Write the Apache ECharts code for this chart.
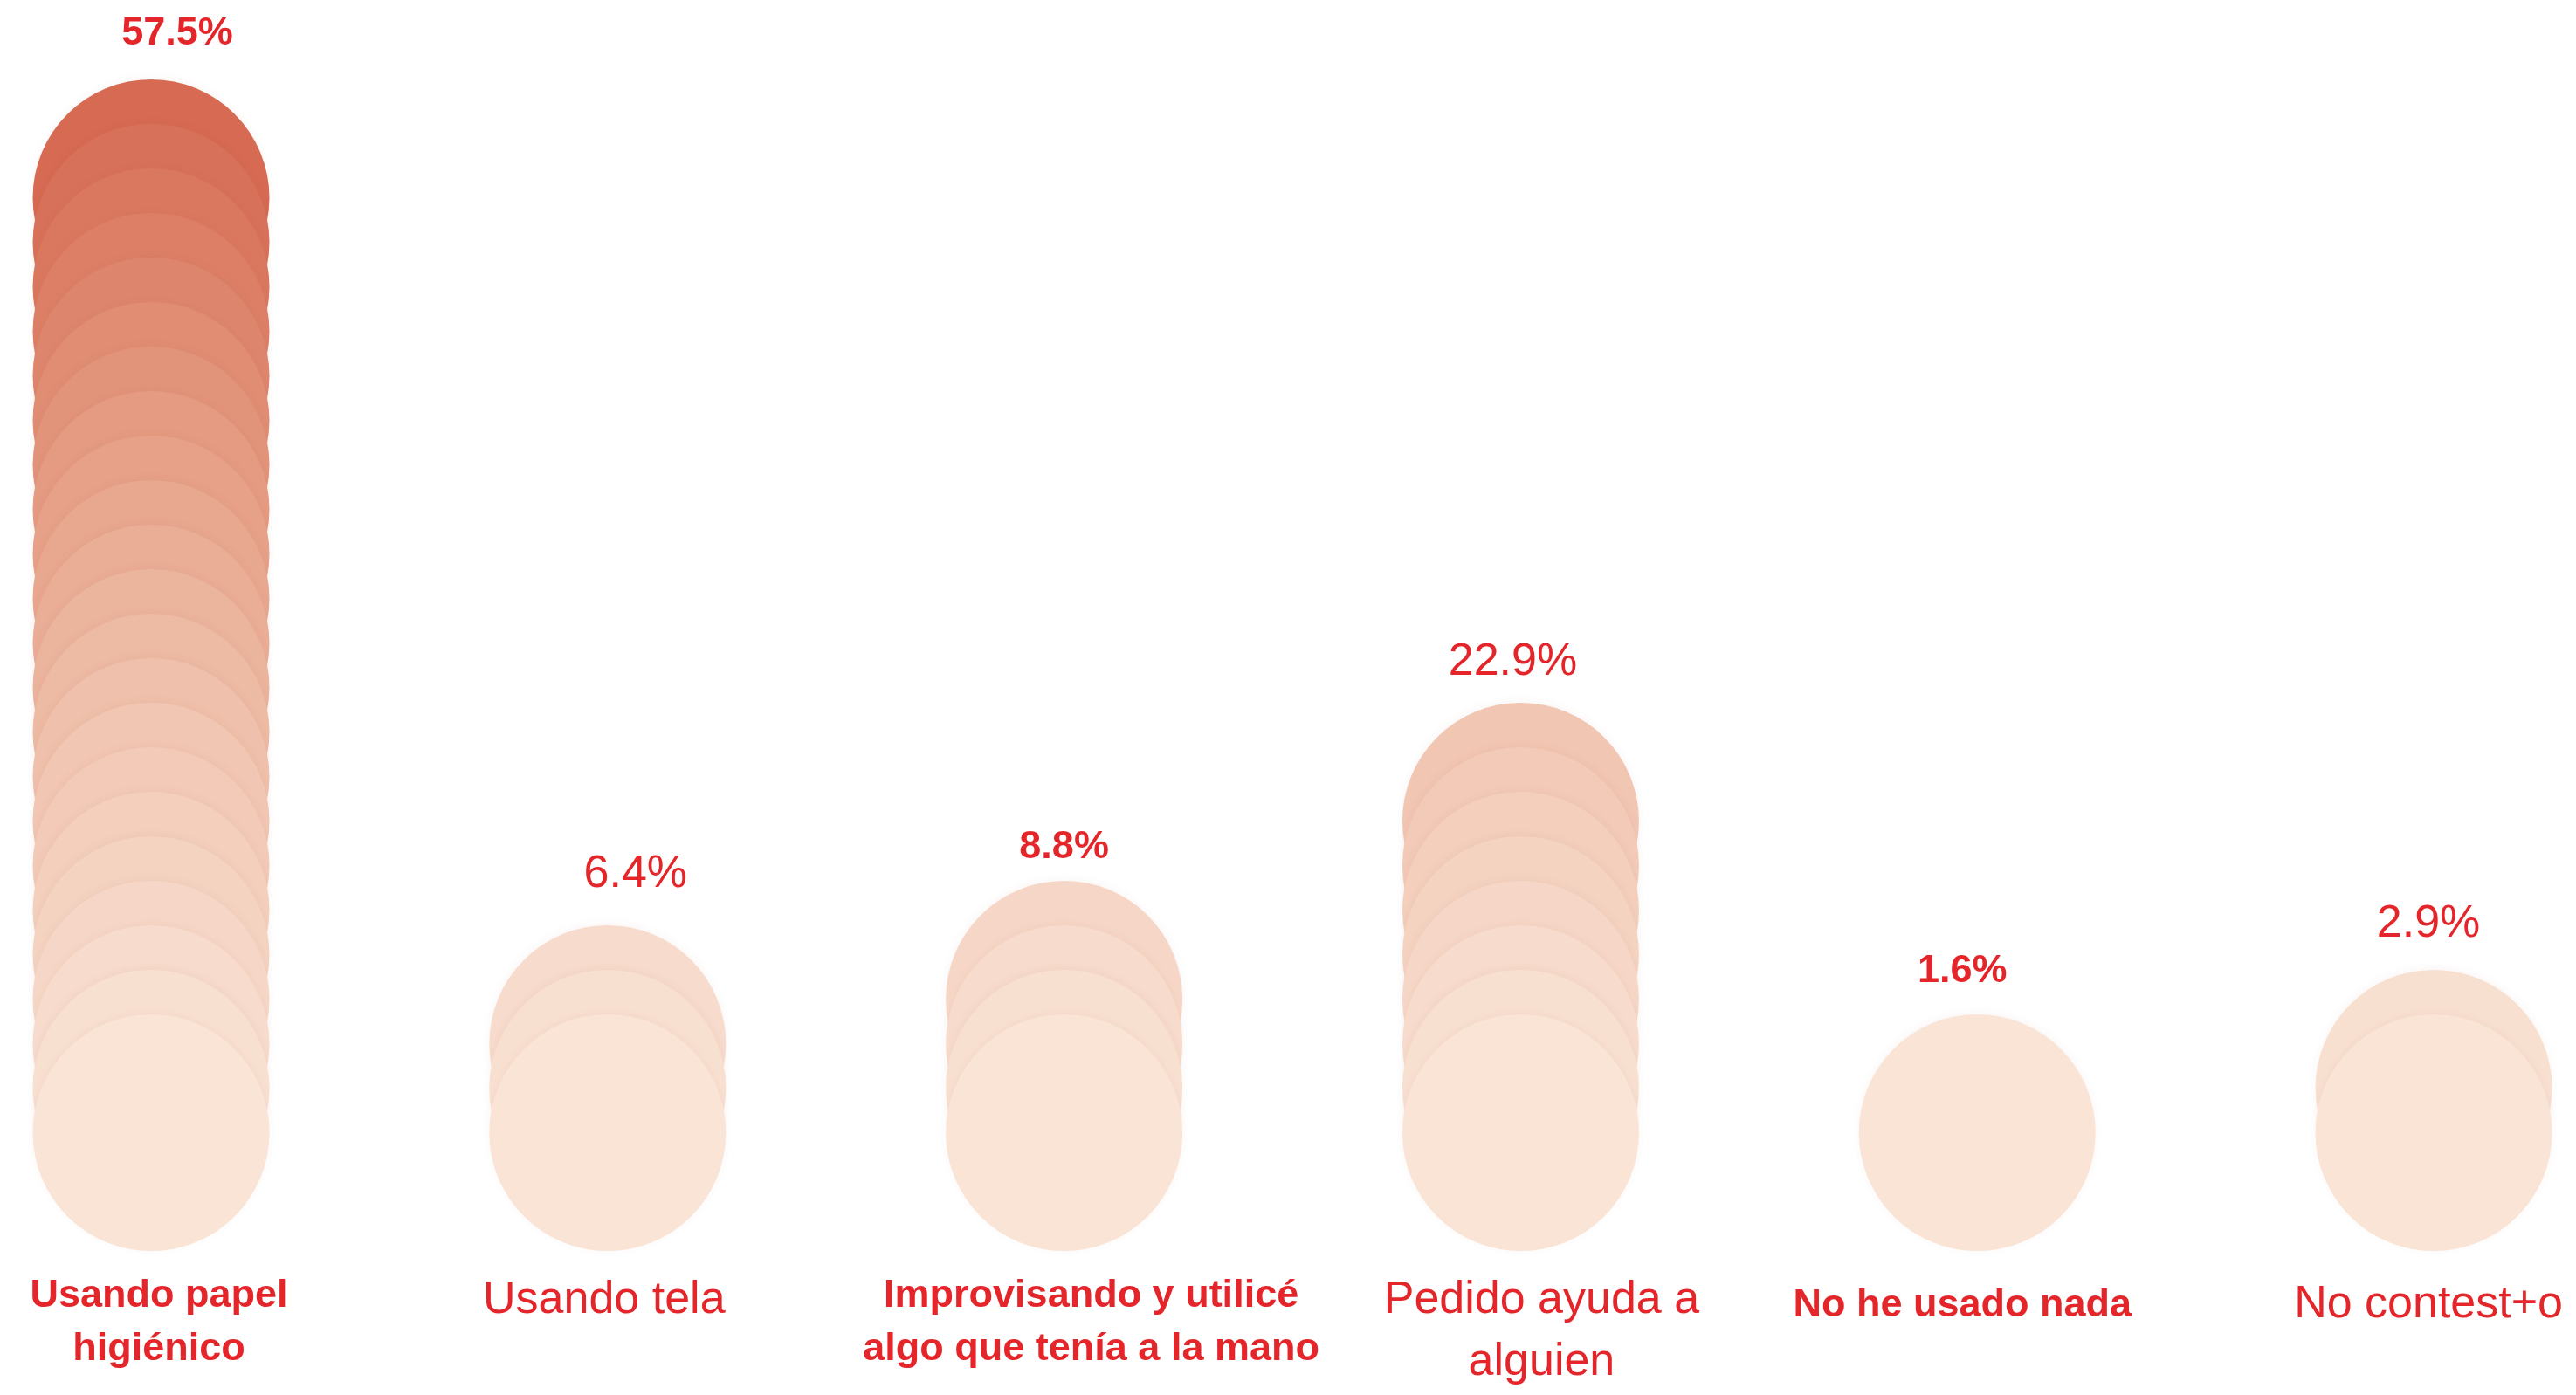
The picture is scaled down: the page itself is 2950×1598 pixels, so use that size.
<!DOCTYPE html>
<html>
<head>
<meta charset="utf-8">
<script src="https://cdn.jsdelivr.net/npm/echarts@6/dist/echarts.min.js"></script>
<style>
html,body{margin:0;padding:0;background:#fff;}
#chart{width:2950px;height:1598px;}
</style>
</head>
<body>
<div id="chart"></div>
<script>
// ---- data ----
const categories = [
  'Usando papel\nhigiénico',
  'Usando tela',
  'Improvisando y utilicé\nalgo que tenía a la mano',
  'Pedido ayuda a\nalguien',
  'No he usado nada',
  'No contest+o'
];
const values = [57.5, 6.4, 8.8, 22.9, 1.6, 2.9];
const circleCounts = [22, 3, 4, 8, 1, 2];

// ---- styling ----
const boldFlags = [true, false, true, false, true, false];
const valueLabelShift = [[30, 0], [32, -6], [0, 14], [-9, 6], [-17, 3], [-6, 0]];
const catLabelShift = [9, -4, 31, 24, -17, -6];
const catLabelDrop = [0, 0, 0, 0, 11, 5];
const RED = '#e4262b';
const FONT = '"Liberation Sans", Arial, Helvetica, sans-serif';

const points = [];
categories.forEach((c, i) => {
  for (let k = circleCounts[i] - 1; k >= 0; k--) {
    const item = { value: [i, k] };
    if (k === circleCounts[i] - 1) {
      const bold = boldFlags[i];
      item.label = {
        show: true,
        position: 'top',
        distance: 27,
        offset: valueLabelShift[i],
        formatter: values[i].toFixed(1) + '%',
        color: RED,
        fontFamily: FONT,
        fontWeight: bold ? 'bold' : 'normal',
        fontSize: bold ? 45 : 52,
        lineHeight: 50
      };
    }
    points.push(item);
  }
});

const rich = {};
categories.forEach((c, i) => {
  const s = catLabelShift[i];
  const bold = boldFlags[i];
  rich['s' + i] = {
    color: RED,
    fontFamily: FONT,
    fontWeight: bold ? 'bold' : 'normal',
    fontSize: bold ? 45 : 52,
    lineHeight: bold ? 61 : 71,
    padding: [0, s < 0 ? -2 * s : 0, 0, s > 0 ? 2 * s : 0]
  };
});
catLabelDrop.forEach((d, i) => { if (d > 0) rich['gap' + i] = { lineHeight: d, fontSize: 1, height: d }; });

const chart = echarts.init(document.getElementById('chart'), null, { renderer: 'canvas' });
chart.setOption({
  backgroundColor: '#ffffff',
  animation: false,
  grid: { left: 173, right: 162, top: 22.5, bottom: 147.5 },
  xAxis: {
    type: 'category',
    data: categories,
    boundaryGap: false,
    axisLine: { show: false },
    axisTick: { show: false },
    splitLine: { show: false },
    axisLabel: {
      interval: 0,
      margin: 4,
      verticalAlign: 'top',
      formatter: function (val, idx) {
        const lines = val.split('\n').map(l => '{s' + idx + '|' + l + '}');
        if (catLabelDrop[idx] > 0) lines.unshift('{gap' + idx + '|}');
        return lines.join('\n');
      },
      rich: rich
    }
  },
  yAxis: { type: 'value', min: -3, max: 25, show: false },
  visualMap: {
    show: false,
    type: 'continuous',
    dimension: 1,
    min: 0,
    max: Math.max(...circleCounts) - 1,
    inRange: { color: ['#f9e4d6', '#f1c6b2', '#e49b81', '#d66a52'] }
  },
  series: [{
    type: 'scatter',
    symbol: 'circle',
    symbolSize: 271,
    silent: true,
    clip: false,
    data: points,
    itemStyle: {
      opacity: 1,
      shadowBlur: 10,
      shadowColor: 'rgba(170,80,60,0.06)',
      shadowOffsetY: -2
    },
    emphasis: { disabled: true }
  }]
});
</script>
</body>
</html>
